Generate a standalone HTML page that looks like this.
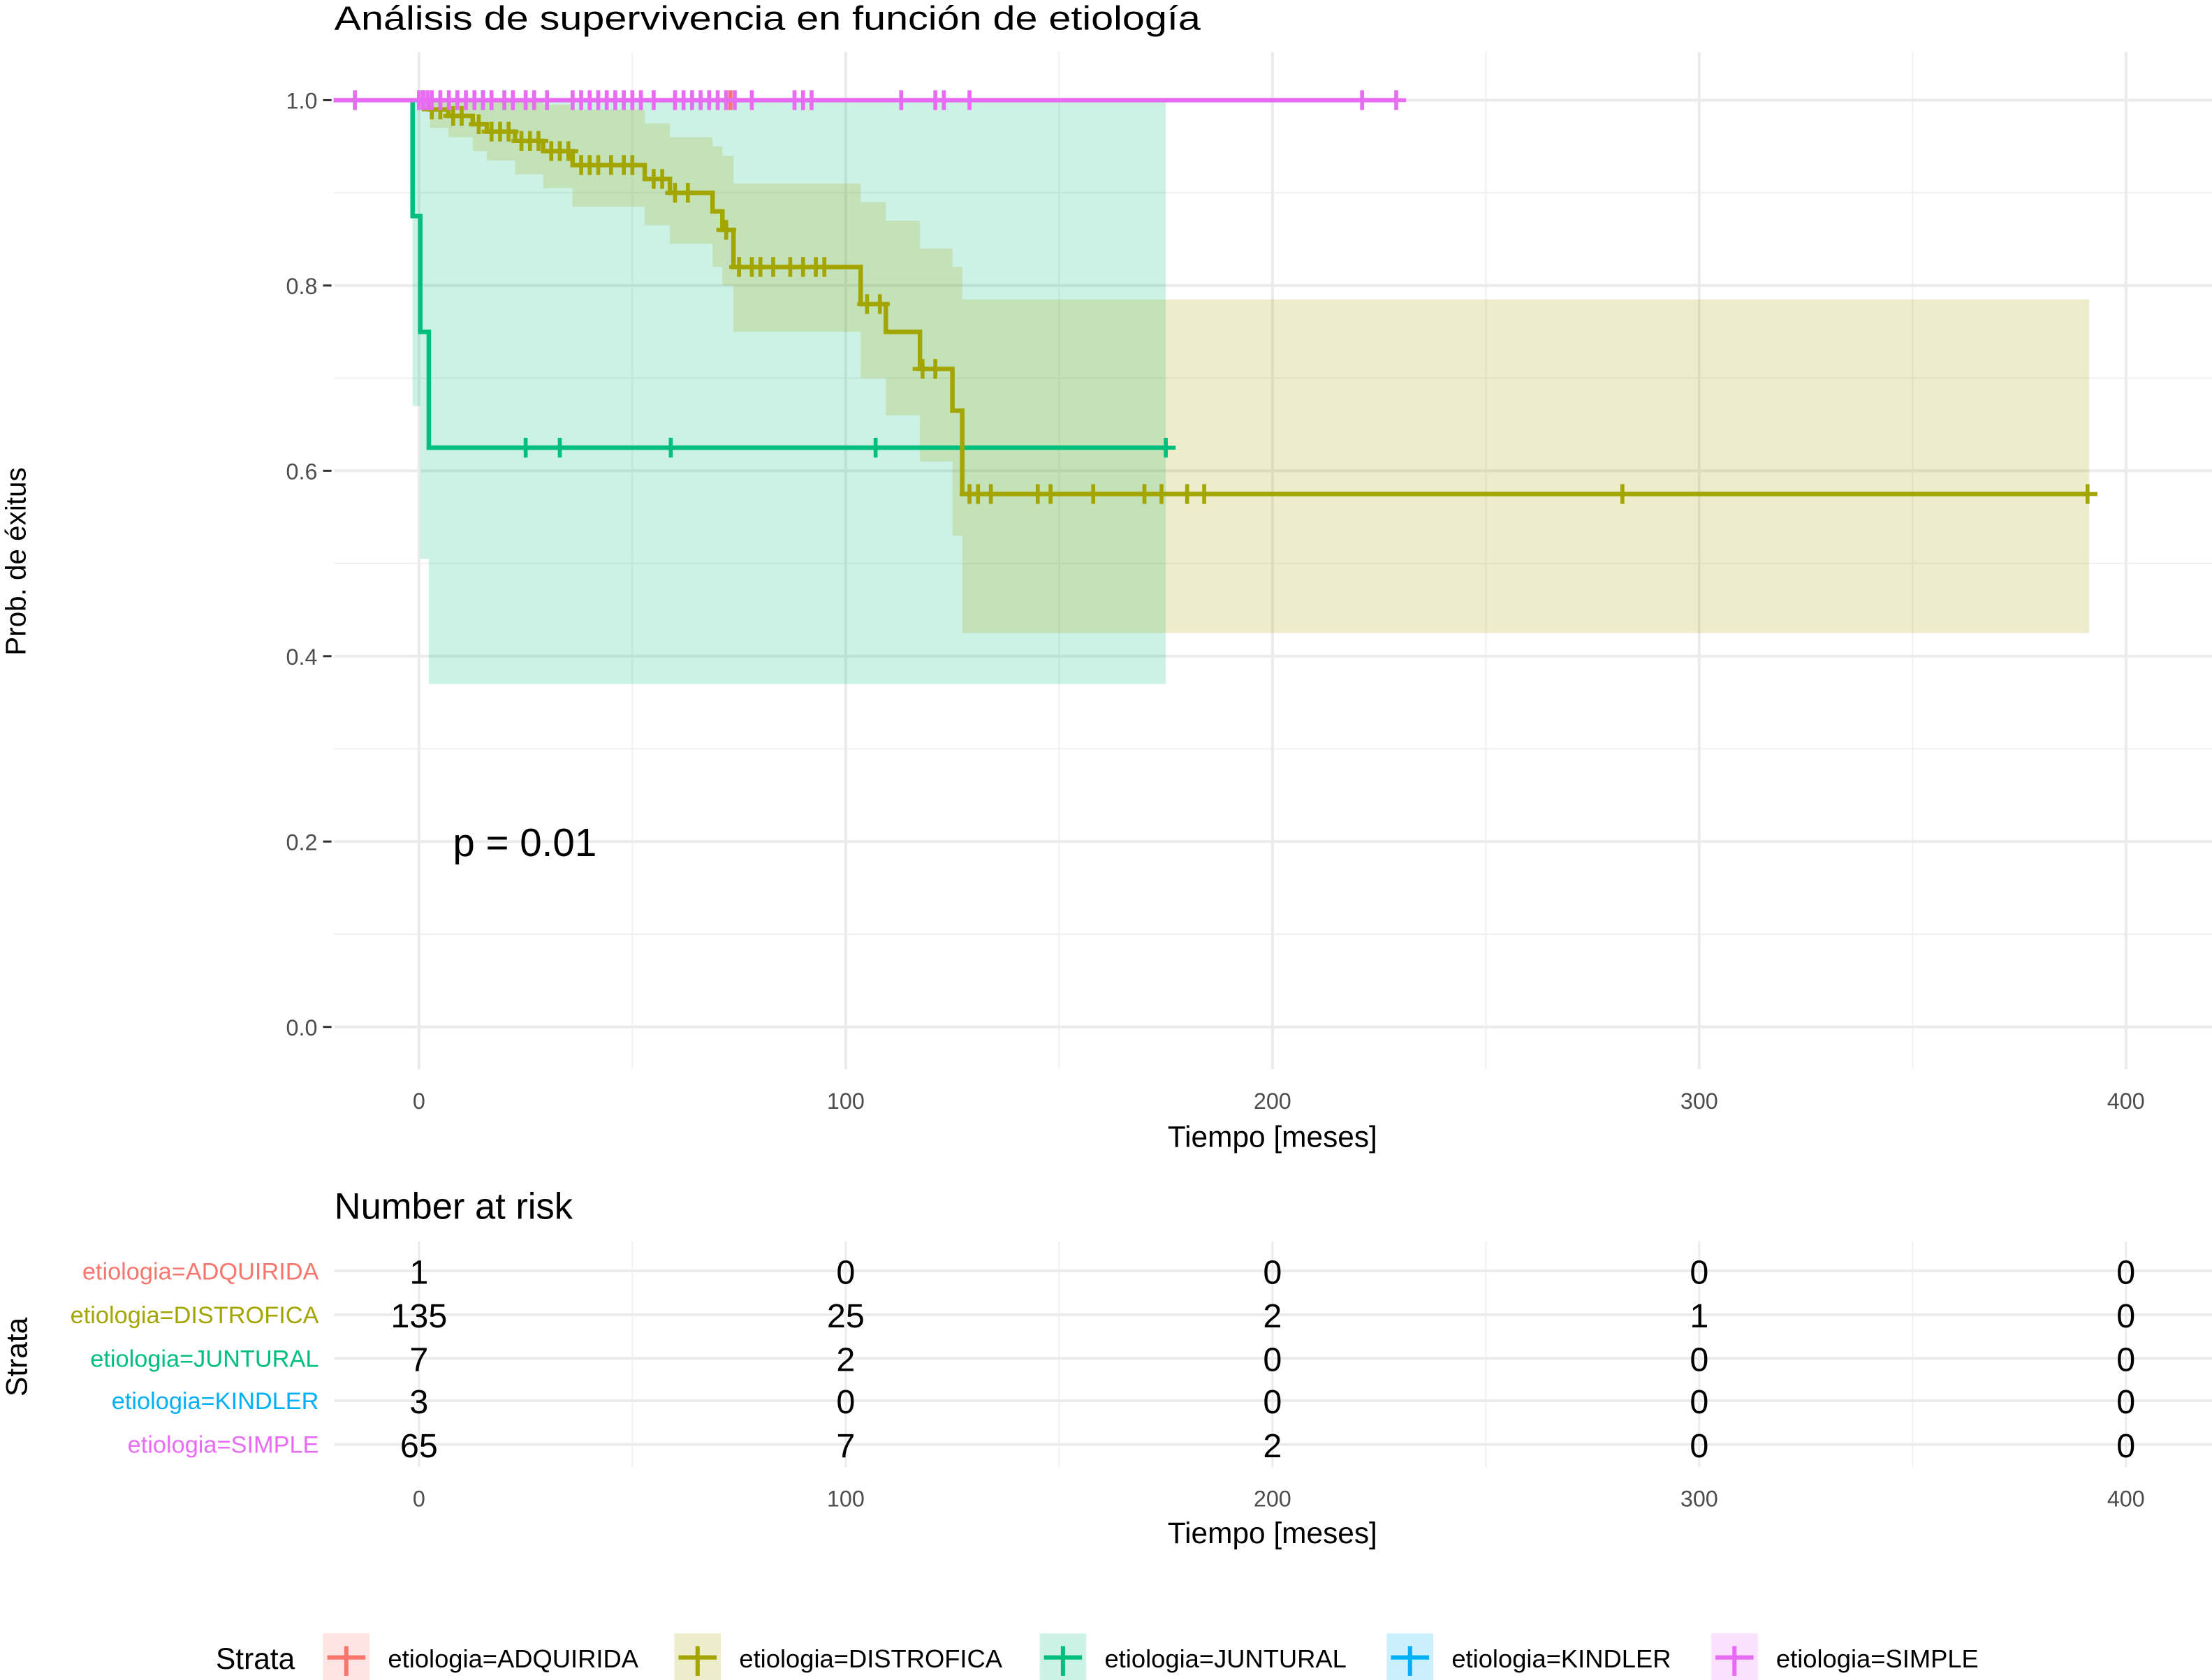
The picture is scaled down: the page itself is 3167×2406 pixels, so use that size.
<!DOCTYPE html>
<html><head><meta charset="utf-8"><style>html,body{margin:0;padding:0;background:#fff}svg{display:block;font-family:"Liberation Sans",Arial,sans-serif}</style></head>
<body>
<svg id="chart" width="3167" height="2406" viewBox="0 0 1568 1191" preserveAspectRatio="none" xmlns="http://www.w3.org/2000/svg">
<g id="main"></g>
</svg>
<script>
// ---- data ----
const xTicks = [0, 100, 200, 300, 400];
const yTicks = [0, 0.2, 0.4, 0.6, 0.8, 1.0];
const yTickLabels = ["0.0", "0.2", "0.4", "0.6", "0.8", "1.0"];
const strata = ["etiologia=ADQUIRIDA", "etiologia=DISTROFICA", "etiologia=JUNTURAL", "etiologia=KINDLER", "etiologia=SIMPLE"];
const colors = ["#F8766D", "#A3A500", "#00BF7D", "#00B0F6", "#E76BF3"];

const distTimes = [2.6, 6.9, 12.6, 15.9, 22.5, 29.1, 36, 52.9, 58.8, 68.8, 71.1, 73.7, 103.5, 109.4, 117.4, 125, 127.3];
const distSurv  = [0.99, 0.983, 0.974, 0.966, 0.956, 0.945, 0.93, 0.915, 0.9, 0.88, 0.86, 0.82, 0.78, 0.75, 0.71, 0.665, 0.575];
const distUpper = [1, 1, 1, 1, 1, 0.995, 0.99, 0.975, 0.96, 0.95, 0.94, 0.91, 0.89, 0.87, 0.84, 0.82, 0.785];
const distLower = [0.97, 0.96, 0.945, 0.935, 0.92, 0.905, 0.885, 0.865, 0.845, 0.82, 0.8, 0.75, 0.7, 0.66, 0.61, 0.53, 0.425];
const distEnd = 391.4;
const distCensor = [1,3,5,8,10,14,17,19,21,24,26,28,31,33,35,38,40,42,45,48,50,55,57,60,63,72,75,78,80,83,87,90,93,95,105,108,118,121,129,131,134,145,148,158,170,174,180,184,282,391];

const juntTimes = [-1.5, 0.3, 2.3];
const juntSurv  = [0.875, 0.75, 0.625];
const juntUpper = [1, 1, 1];
const juntLower = [0.67, 0.505, 0.37];
const juntEnd = 175;
const juntCensor = [25, 33, 59, 107, 175];

const simpleStart = -20;
const simpleEnd = 229;
const simpleCensor = [-15,0,1,2,3,5,7,9,11,13,15,17,20,22,25,27,30,36,38,40,42,44,46,48,50,52,55,60,62,64,66,68,70,72,74,78,88,90,92,113,121,123,129,221,229];
const adqCensor = [73];
const kindCensor = [15];

const riskTable = [[1,0,0,0,0],[135,25,2,1,0],[7,2,0,0,0],[3,0,0,0,0],[65,7,2,0,0]];
const pValueText = "p = 0.01";

// ---- scales ----
const xs = t => 297 + t * 3.025;
const ys = p => 728 - p * 657;
const NS = "http://www.w3.org/2000/svg";
const root = document.getElementById('main');
function mk(tag, attrs, parent, text) {
  const e = document.createElementNS(NS, tag);
  for (const k in attrs) e.setAttribute(k, attrs[k]);
  if (text !== undefined) e.textContent = text;
  (parent || root).appendChild(e);
  return e;
}

// title
let e = mk('text', {x: 237, y: 21, 'font-size': 24, fill: '#000', textLength: 614, lengthAdjust: 'spacingAndGlyphs'}, root, 'Análisis de supervivencia en función de etiología');



// grid main
const grid = mk('g', {});


for (let v = 0.1; v < 1.0; v += 0.2) mk('line', {x1: 237, x2: 1568, y1: ys(v), y2: ys(v), stroke: '#f0f0f0', 'stroke-width': 1}, grid);
for (const v of [50,150,250,350]) mk('line', {x1: xs(v), x2: xs(v), y1: 37, y2: 758, stroke: '#f0f0f0', 'stroke-width': 1}, grid);
for (const v of yTicks) mk('line', {x1: 237, x2: 1568, y1: ys(v), y2: ys(v), stroke: '#ebebeb', 'stroke-width': 2}, grid);
for (const v of xTicks) mk('line', {x1: xs(v), x2: xs(v), y1: 37, y2: 758, stroke: '#ebebeb', 'stroke-width': 2}, grid);

// step paths
function stepPath(times, vals, start, startVal, end) {
  let d = `M${xs(start)},${ys(startVal)}`;
  for (let i = 0; i < times.length; i++) { d += `H${xs(times[i])}V${ys(vals[i])}`; }
  d += `H${xs(end)}`;
  return d;
}
function bandPath(times, up, lo, start, end) {
  let top = `M${xs(start)},${ys(1)}`;
  for (let i = 0; i < times.length; i++) top += `H${xs(times[i])}V${ys(up[i])}`;
  top += `H${xs(end)}`;
  let bot = `V${ys(lo[lo.length-1])}`;
  for (let i = times.length - 1; i >= 0; i--) { bot += `H${xs(times[i])}V${ys(i > 0 ? lo[i-1] : 1)}`; }
  bot += `H${xs(start)}Z`;
  return top + bot;
}
e = mk('path', {d: bandPath(juntTimes, juntUpper, juntLower, juntTimes[0], juntEnd), fill: colors[2], 'fill-opacity': 0.2});


e = mk('path', {d: bandPath(distTimes, distUpper, distLower, 0, distEnd), fill: colors[1], 'fill-opacity': 0.2});



function censor(times, survFn, color, name) {
  const g = mk('g', {stroke: color, 'stroke-width': 2.8});
  
  
  for (const t of times) {
    const x = xs(t), y = ys(survFn(t));
    mk('line', {x1: x - 7, x2: x + 7, y1: y, y2: y}, g);
    mk('line', {x1: x, x2: x, y1: y - 7, y2: y + 7}, g);
  }
}
function survAt(times, vals, t) { let s = 1; for (let i = 0; i < times.length; i++) if (times[i] <= t) s = vals[i]; return s; }

e = mk('path', {d: stepPath(juntTimes, juntSurv, juntTimes[0], 1, juntEnd), fill: 'none', stroke: colors[2], 'stroke-width': 3.2});


censor(juntCensor, t => survAt(juntTimes, juntSurv, t), colors[2], 'juntural-censor-marks');
e = mk('path', {d: stepPath(distTimes, distSurv, 0, 1, distEnd), fill: 'none', stroke: colors[1], 'stroke-width': 3.2});


censor(distCensor, t => survAt(distTimes, distSurv, t), colors[1], 'distrofica-censor-marks');
e = mk('path', {d: `M${xs(simpleStart)},${ys(1)}H${xs(simpleEnd)}`, fill: 'none', stroke: colors[4], 'stroke-width': 3.2});


censor(adqCensor, t => 1, colors[0], 'adquirida-censor-marks');
censor(kindCensor, t => 1, colors[3], 'kindler-censor-marks');
censor(simpleCensor, t => 1, colors[4], 'simple-censor-marks');

// axes
const ya = mk('g', {});


yTicks.forEach((v, i) => {
  mk('line', {x1: 229, x2: 235, y1: ys(v), y2: ys(v), stroke: '#333', 'stroke-width': 1.5}, ya);
  mk('text', {x: 225, y: ys(v) + 6, 'font-size': 16, fill: '#4d4d4d', 'text-anchor': 'end'}, ya, yTickLabels[i]);
});
e = mk('text', {x: 0, y: 0, 'font-size': 20, fill: '#000', 'text-anchor': 'middle', transform: 'translate(18,398) rotate(-90)'}, root, 'Prob. de éxitus');


const xa = mk('g', {});


xTicks.forEach(v => mk('text', {x: xs(v), y: 786, 'font-size': 16, fill: '#4d4d4d', 'text-anchor': 'middle'}, xa, String(v)));
e = mk('text', {x: 902, y: 813, 'font-size': 21, fill: '#000', 'text-anchor': 'middle'}, root, 'Tiempo [meses]');


e = mk('text', {x: 321, y: 607, 'font-size': 28, fill: '#000'}, root, pValueText);



// risk table
e = mk('text', {x: 237, y: 864, 'font-size': 26, fill: '#000'}, root, 'Number at risk');


const rt = mk('g', {});


const rowY = [901, 932, 963, 993, 1024];
for (const v of [50,150,250,350]) mk('line', {x1: xs(v), x2: xs(v), y1: 880, y2: 1040, stroke: '#f0f0f0', 'stroke-width': 1}, rt);
for (const v of xTicks) mk('line', {x1: xs(v), x2: xs(v), y1: 880, y2: 1040, stroke: '#ebebeb', 'stroke-width': 1.5}, rt);
rowY.forEach((y, r) => {
  mk('line', {x1: 237, x2: 1568, y1: y, y2: y, stroke: '#ebebeb', 'stroke-width': 2}, rt);
  mk('text', {x: 226, y: y + 6, 'font-size': 17, fill: colors[r], 'text-anchor': 'end'}, rt, strata[r]);
  xTicks.forEach((v, c) => mk('text', {x: xs(v), y: y + 9, 'font-size': 24, fill: '#000', 'text-anchor': 'middle'}, rt, String(riskTable[r][c])));
});
e = mk('text', {x: 0, y: 0, 'font-size': 21, fill: '#000', 'text-anchor': 'middle', transform: 'translate(19,962) rotate(-90)'}, root, 'Strata');


xTicks.forEach(v => mk('text', {x: xs(v), y: 1068, 'font-size': 16, fill: '#4d4d4d', 'text-anchor': 'middle'}, rt, String(v)));
e = mk('text', {x: 902, y: 1094, 'font-size': 21, fill: '#000', 'text-anchor': 'middle'}, root, 'Tiempo [meses]');



// legend
const lg = mk('g', {});


mk('text', {x: 153, y: 1183, 'font-size': 21, fill: '#000'}, lg, 'Strata');
const keyX = [229, 478, 737, 983, 1213];
strata.forEach((s, i) => {
  const k = mk('g', {}, lg);
  
  
  mk('rect', {x: keyX[i], y: 1158, width: 33, height: 33, fill: colors[i], 'fill-opacity': 0.2}, k);
  mk('line', {x1: keyX[i] + 3, x2: keyX[i] + 30, y1: 1175, y2: 1175, stroke: colors[i], 'stroke-width': 3}, k);
  mk('line', {x1: keyX[i] + 16.5, x2: keyX[i] + 16.5, y1: 1167, y2: 1188, stroke: colors[i], 'stroke-width': 3}, k);
  mk('text', {x: keyX[i] + 46, y: 1182, 'font-size': 18, fill: '#000'}, k, s);
});
</script>
</body></html>
